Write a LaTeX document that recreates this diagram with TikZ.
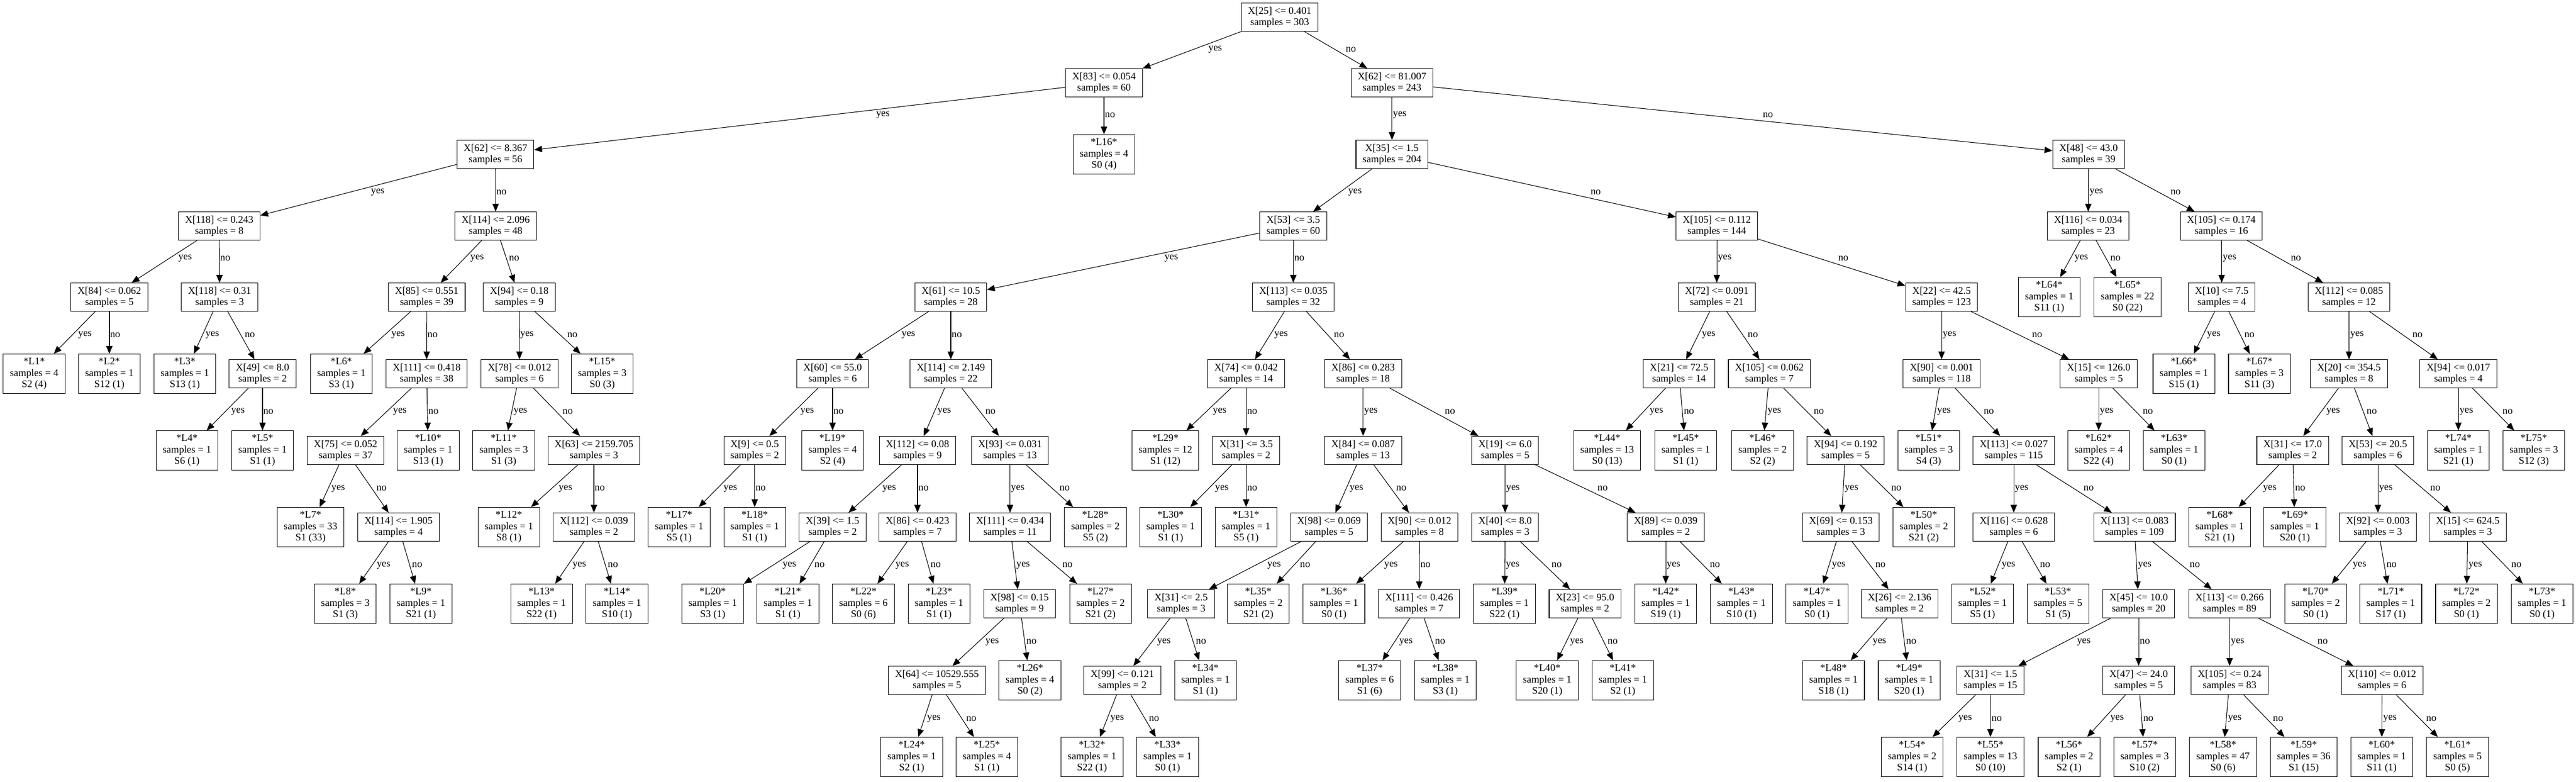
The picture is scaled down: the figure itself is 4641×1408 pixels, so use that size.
\documentclass[tikz,border=0pt]{standalone}
\usepackage{fontspec}
\setmainfont{Liberation Serif}
\usetikzlibrary{arrows.meta}

% one pixel of the picture is 0.02cm
\newcommand\pxu{0.569055}

\tikzset{
  cond/.style={draw, line width=0.6pt, rectangle, align=center, inner xsep=6.8pt,
    inner ysep=2pt, minimum height=29pt, font=\fontsize{10.4}{11.8}\selectfont},
  leaf/.style={cond, minimum height=40.4pt},
  link/.style={line width=0.6pt, -{Triangle[length=8pt,width=6.5pt]}},
  lab/.style={anchor=west, inner sep=0.5pt, font=\fontsize{10.4}{11.8}\selectfont}
}

% edge from #1 to #2, label #3 sits to the right of the line
\newcommand\branch[3]{%
  \draw[link] (#1) -- (#2);
  \path (#1.center); \pgfgetlastxy{\ax}{\ay}
  \path (#2.center); \pgfgetlastxy{\bx}{\by}
  \pgfmathsetmacro\pa{-1*(\ay)/\pxu}
  \pgfmathsetmacro\pb{-1*(\by)/\pxu}
  \pgfmathsetmacro\ly{\pa+58.5+10*((\pa>200)*(\pa<300)+(\pa>500))}
  \pgfmathsetmacro\ty{\ly+10*((\bx>\ax)-(\bx<\ax))}
  \pgfmathsetmacro\tx{(\ax+(\bx-\ax)*((\ty-\pa)/(\pb-\pa)))/\pxu}
  \node[lab] at (\tx,\ly) {#3};
}
\newcommand\fork[3]{\branch{#1}{#2}{yes}\branch{#1}{#3}{no}}

\begin{document}
\begin{tikzpicture}[x=0.02cm,y=-0.02cm]
\path[fill=white,use as bounding box] (0,0) rectangle (4641,1408);

% rank 0 and 1
\node[cond] (t1) at (2305.5,31) {X[25] <= 0.401\\samples = 303};
\node[cond] (t2) at (1989,149) {X[83] <= 0.054\\samples = 60};
\node[cond] (t17) at (2507.8,149) {X[62] <= 81.007\\samples = 243};
% rank 2
\node[cond] (t3) at (892.7,278) {X[62] <= 8.367\\samples = 56};
\node[leaf] (L16) at (1989,278) {*L16*\\samples = 4\\S0 (4)};
\node[cond] (t18) at (2507.8,278) {X[35] <= 1.5\\samples = 204};
\node[cond] (t64) at (3762.8,278) {X[48] <= 43.0\\samples = 39};
% rank 3
\node[cond] (t4) at (395,407) {X[118] <= 0.243\\samples = 8};
\node[cond] (t8) at (893,407) {X[114] <= 2.096\\samples = 48};
\node[cond] (t19) at (2330,407) {X[53] <= 3.5\\samples = 60};
\node[cond] (t45) at (3093,407) {X[105] <= 0.112\\samples = 144};
\node[cond] (t65) at (3762,407) {X[116] <= 0.034\\samples = 23};
\node[cond] (t66) at (4002,407) {X[105] <= 0.174\\samples = 16};
% rank 4
\node[cond] (t5) at (197,535) {X[84] <= 0.062\\samples = 5};
\node[cond] (t6) at (395.7,535) {X[118] <= 0.31\\samples = 3};
\node[cond] (t9) at (768.8,535) {X[85] <= 0.551\\samples = 39};
\node[cond] (t13) at (935.5,535) {X[94] <= 0.18\\samples = 9};
\node[cond] (t20) at (1713,535) {X[61] <= 10.5\\samples = 28};
\node[cond] (t31) at (2330,535) {X[113] <= 0.035\\samples = 32};
\node[cond] (t46) at (3093,535) {X[72] <= 0.091\\samples = 21};
\node[cond] (t52) at (3498,535) {X[22] <= 42.5\\samples = 123};
\node[leaf] (L64) at (3692,535) {*L64*\\samples = 1\\S11 (1)};
\node[leaf] (L65) at (3833,535) {*L65*\\samples = 22\\S0 (22)};
\node[cond] (t67) at (4002.8,535) {X[10] <= 7.5\\samples = 4};
\node[cond] (t68) at (4231.9,535) {X[112] <= 0.085\\samples = 12};
% rank 5
\node[leaf] (L1) at (61.6,673) {*L1*\\samples = 4\\S2 (4)};
\node[leaf] (L2) at (197,673) {*L2*\\samples = 1\\S12 (1)};
\node[leaf] (L3) at (333,673) {*L3*\\samples = 1\\S13 (1)};
\node[cond] (t7) at (473,673) {X[49] <= 8.0\\samples = 2};
\node[leaf] (L6) at (615,673) {*L6*\\samples = 1\\S3 (1)};
\node[cond] (t10) at (768.7,673) {X[111] <= 0.418\\samples = 38};
\node[cond] (t14) at (936,673) {X[78] <= 0.012\\samples = 6};
\node[leaf] (L15) at (1085,673) {*L15*\\samples = 3\\S0 (3)};
\node[cond] (t21) at (1500,673) {X[60] <= 55.0\\samples = 6};
\node[cond] (t23) at (1713,673) {X[114] <= 2.149\\samples = 22};
\node[cond] (t32) at (2245,673) {X[74] <= 0.042\\samples = 14};
\node[cond] (t34) at (2455.8,673) {X[86] <= 0.283\\samples = 18};
\node[cond] (t47) at (3025,673) {X[21] <= 72.5\\samples = 14};
\node[cond] (t48) at (3187.7,673) {X[105] <= 0.062\\samples = 7};
\node[cond] (t53) at (3498,673) {X[90] <= 0.001\\samples = 118};
\node[cond] (t63) at (3781,673) {X[15] <= 126.0\\samples = 5};
\node[leaf] (L66) at (3934.6,673) {*L66*\\samples = 1\\S15 (1)};
\node[leaf] (L67) at (4070.6,673) {*L67*\\samples = 3\\S11 (3)};
\node[cond] (t69) at (4232,673) {X[20] <= 354.5\\samples = 8};
\node[cond] (t74) at (4429,673) {X[94] <= 0.017\\samples = 4};
% rank 6
\node[leaf] (L4) at (336.8,811) {*L4*\\samples = 1\\S6 (1)};
\node[leaf] (L5) at (473,811) {*L5*\\samples = 1\\S1 (1)};
\node[cond] (t11) at (622.6,811) {X[75] <= 0.052\\samples = 37};
\node[leaf] (L10) at (771.4,811) {*L10*\\samples = 1\\S13 (1)};
\node[leaf] (L11) at (907.6,811) {*L11*\\samples = 3\\S1 (3)};
\node[cond] (t15) at (1070,811) {X[63] <= 2159.705\\samples = 3};
\node[cond] (t22) at (1359.7,811) {X[9] <= 0.5\\samples = 2};
\node[leaf] (L19) at (1500,811) {*L19*\\samples = 4\\S2 (4)};
\node[cond] (t24) at (1653,811) {X[112] <= 0.08\\samples = 9};
\node[cond] (t27) at (1819.7,811) {X[93] <= 0.031\\samples = 13};
\node[leaf] (L29) at (2099.6,811) {*L29*\\samples = 12\\S1 (12)};
\node[cond] (t33) at (2245,811) {X[31] <= 3.5\\samples = 2};
\node[cond] (t35) at (2455.8,811) {X[84] <= 0.087\\samples = 13};
\node[cond] (t41) at (2711.7,811) {X[19] <= 6.0\\samples = 5};
\node[leaf] (L44) at (2895.5,811) {*L44*\\samples = 13\\S0 (13)};
\node[leaf] (L45) at (3037,811) {*L45*\\samples = 1\\S1 (1)};
\node[leaf] (L46) at (3175.5,811) {*L46*\\samples = 2\\S2 (2)};
\node[cond] (t49) at (3325,811) {X[94] <= 0.192\\samples = 5};
\node[leaf] (L51) at (3474.7,811) {*L51*\\samples = 3\\S4 (3)};
\node[cond] (t54) at (3628,811) {X[113] <= 0.027\\samples = 115};
\node[leaf] (L62) at (3781,811) {*L62*\\samples = 4\\S22 (4)};
\node[leaf] (L63) at (3917,811) {*L63*\\samples = 1\\S0 (1)};
\node[cond] (t70) at (4130.6,811) {X[31] <= 17.0\\samples = 2};
\node[cond] (t71) at (4284,811) {X[53] <= 20.5\\samples = 6};
\node[leaf] (L74) at (4429,811) {*L74*\\samples = 1\\S21 (1)};
\node[leaf] (L75) at (4565,811) {*L75*\\samples = 3\\S12 (3)};
% rank 7
\node[leaf] (L7) at (559.5,949) {*L7*\\samples = 33\\S1 (33)};
\node[cond] (t12) at (718,949) {X[114] <= 1.905\\samples = 4};
\node[leaf] (L12) at (916.8,949) {*L12*\\samples = 1\\S8 (1)};
\node[cond] (t16) at (1070,949) {X[112] <= 0.039\\samples = 2};
\node[leaf] (L17) at (1223.5,949) {*L17*\\samples = 1\\S5 (1)};
\node[leaf] (L18) at (1359.7,949) {*L18*\\samples = 1\\S1 (1)};
\node[cond] (t25) at (1500,949) {X[39] <= 1.5\\samples = 2};
\node[cond] (t26) at (1653,949) {X[86] <= 0.423\\samples = 7};
\node[cond] (t28) at (1819.7,949) {X[111] <= 0.434\\samples = 11};
\node[leaf] (L28) at (1973.5,949) {*L28*\\samples = 2\\S5 (2)};
\node[leaf] (L30) at (2109,949) {*L30*\\samples = 1\\S1 (1)};
\node[leaf] (L31) at (2245,949) {*L31*\\samples = 1\\S5 (1)};
\node[cond] (t36) at (2394.4,949) {X[98] <= 0.069\\samples = 5};
\node[cond] (t39) at (2557.4,949) {X[90] <= 0.012\\samples = 8};
\node[cond] (t42) at (2711.7,949) {X[40] <= 8.0\\samples = 3};
\node[cond] (t44) at (3001,949) {X[89] <= 0.039\\samples = 2};
\node[cond] (t50) at (3316.6,949) {X[69] <= 0.153\\samples = 3};
\node[leaf] (L50) at (3466,949) {*L50*\\samples = 2\\S21 (2)};
\node[cond] (t55) at (3628,949) {X[116] <= 0.628\\samples = 6};
\node[cond] (t56) at (3845.5,949) {X[113] <= 0.083\\samples = 109};
\node[leaf] (L68) at (3999,949) {*L68*\\samples = 1\\S21 (1)};
\node[leaf] (L69) at (4134.4,949) {*L69*\\samples = 1\\S20 (1)};
\node[cond] (t72) at (4284,949) {X[92] <= 0.003\\samples = 3};
\node[cond] (t73) at (4446,949) {X[15] <= 624.5\\samples = 3};
% rank 8
\node[leaf] (L8) at (622.2,1087) {*L8*\\samples = 3\\S1 (3)};
\node[leaf] (L9) at (758.4,1087) {*L9*\\samples = 1\\S21 (1)};
\node[leaf] (L13) at (975.7,1087) {*L13*\\samples = 1\\S22 (1)};
\node[leaf] (L14) at (1111.6,1087) {*L14*\\samples = 1\\S10 (1)};
\node[leaf] (L20) at (1284,1087) {*L20*\\samples = 1\\S3 (1)};
\node[leaf] (L21) at (1419.5,1087) {*L21*\\samples = 1\\S1 (1)};
\node[leaf] (L22) at (1555.6,1087) {*L22*\\samples = 6\\S0 (6)};
\node[leaf] (L23) at (1691.8,1087) {*L23*\\samples = 1\\S1 (1)};
\node[cond] (t29) at (1836.8,1087) {X[98] <= 0.15\\samples = 9};
\node[leaf] (L27) at (1982.7,1087) {*L27*\\samples = 2\\S21 (2)};
\node[cond] (t37) at (2128,1087) {X[31] <= 2.5\\samples = 3};
\node[leaf] (L35) at (2267,1087) {*L35*\\samples = 2\\S21 (2)};
\node[leaf] (L36) at (2403.3,1087) {*L36*\\samples = 1\\S0 (1)};
\node[cond] (t40) at (2556.8,1087) {X[111] <= 0.426\\samples = 7};
\node[leaf] (L39) at (2710.6,1087) {*L39*\\samples = 1\\S22 (1)};
\node[cond] (t43) at (2855.6,1087) {X[23] <= 95.0\\samples = 2};
\node[leaf] (L42) at (3001,1087) {*L42*\\samples = 1\\S19 (1)};
\node[leaf] (L43) at (3137.4,1087) {*L43*\\samples = 1\\S10 (1)};
\node[leaf] (L47) at (3273.5,1087) {*L47*\\samples = 1\\S0 (1)};
\node[cond] (t51) at (3422.3,1087) {X[26] <= 2.136\\samples = 2};
\node[leaf] (L52) at (3571.9,1087) {*L52*\\samples = 1\\S5 (1)};
\node[leaf] (L53) at (3707.7,1087) {*L53*\\samples = 5\\S1 (5)};
\node[cond] (t57) at (3853,1087) {X[45] <= 10.0\\samples = 20};
\node[cond] (t60) at (4016.9,1087) {X[113] <= 0.266\\samples = 89};
\node[leaf] (L70) at (4171.9,1087) {*L70*\\samples = 2\\S0 (1)};
\node[leaf] (L71) at (4307.3,1087) {*L71*\\samples = 1\\S17 (1)};
\node[leaf] (L72) at (4443.6,1087) {*L72*\\samples = 2\\S0 (1)};
\node[leaf] (L73) at (4579.8,1087) {*L73*\\samples = 1\\S0 (1)};
% rank 9
\node[cond] (t30) at (1688,1225) {X[64] <= 10529.555\\samples = 5};
\node[leaf] (L26) at (1855.6,1225) {*L26*\\samples = 4\\S0 (2)};
\node[cond] (t38) at (2022,1225) {X[99] <= 0.121\\samples = 2};
\node[leaf] (L34) at (2171.7,1225) {*L34*\\samples = 1\\S1 (1)};
\node[leaf] (L37) at (2467.6,1225) {*L37*\\samples = 6\\S1 (6)};
\node[leaf] (L38) at (2603.9,1225) {*L38*\\samples = 1\\S3 (1)};
\node[leaf] (L40) at (2787.5,1225) {*L40*\\samples = 1\\S20 (1)};
\node[leaf] (L41) at (2923.7,1225) {*L41*\\samples = 1\\S2 (1)};
\node[leaf] (L48) at (3303.3,1225) {*L48*\\samples = 1\\S18 (1)};
\node[leaf] (L49) at (3439.6,1225) {*L49*\\samples = 1\\S20 (1)};
\node[cond] (t58) at (3586,1225) {X[31] <= 1.5\\samples = 15};
\node[cond] (t59) at (3853,1225) {X[47] <= 24.0\\samples = 5};
\node[cond] (t61) at (4016.9,1225) {X[105] <= 0.24\\samples = 83};
\node[cond] (t62) at (4291.6,1225) {X[110] <= 0.012\\samples = 6};
% rank 10
\node[leaf] (L24) at (1642.5,1363) {*L24*\\samples = 1\\S2 (1)};
\node[leaf] (L25) at (1778,1363) {*L25*\\samples = 4\\S1 (1)};
\node[leaf] (L32) at (1967.4,1363) {*L32*\\samples = 1\\S22 (1)};
\node[leaf] (L33) at (2103.5,1363) {*L33*\\samples = 1\\S0 (1)};
\node[leaf] (L54) at (3445,1363) {*L54*\\samples = 2\\S14 (1)};
\node[leaf] (L55) at (3586,1363) {*L55*\\samples = 13\\S0 (10)};
\node[leaf] (L56) at (3727.6,1363) {*L56*\\samples = 2\\S2 (1)};
\node[leaf] (L57) at (3863.8,1363) {*L57*\\samples = 3\\S10 (2)};
\node[leaf] (L58) at (4005,1363) {*L58*\\samples = 47\\S0 (6)};
\node[leaf] (L59) at (4150.5,1363) {*L59*\\samples = 36\\S1 (15)};
\node[leaf] (L60) at (4291,1363) {*L60*\\samples = 1\\S11 (1)};
\node[leaf] (L61) at (4427.5,1363) {*L61*\\samples = 5\\S0 (5)};

% branches: yes child, no child
\fork{t1}{t2}{t17}
\fork{t2}{t3}{L16}
\fork{t3}{t4}{t8}
\fork{t4}{t5}{t6}
\fork{t5}{L1}{L2}
\fork{t6}{L3}{t7}
\fork{t7}{L4}{L5}
\fork{t8}{t9}{t13}
\fork{t9}{L6}{t10}
\fork{t10}{t11}{L10}
\fork{t11}{L7}{t12}
\fork{t12}{L8}{L9}
\fork{t13}{t14}{L15}
\fork{t14}{L11}{t15}
\fork{t15}{L12}{t16}
\fork{t16}{L13}{L14}
\fork{t17}{t18}{t64}
\fork{t18}{t19}{t45}
\fork{t19}{t20}{t31}
\fork{t20}{t21}{t23}
\fork{t21}{t22}{L19}
\fork{t22}{L17}{L18}
\fork{t23}{t24}{t27}
\fork{t24}{t25}{t26}
\fork{t25}{L20}{L21}
\fork{t26}{L22}{L23}
\fork{t27}{t28}{L28}
\fork{t28}{t29}{L27}
\fork{t29}{t30}{L26}
\fork{t30}{L24}{L25}
\fork{t31}{t32}{t34}
\fork{t32}{L29}{t33}
\fork{t33}{L30}{L31}
\fork{t34}{t35}{t41}
\fork{t35}{t36}{t39}
\fork{t36}{t37}{L35}
\fork{t37}{t38}{L34}
\fork{t38}{L32}{L33}
\fork{t39}{L36}{t40}
\fork{t40}{L37}{L38}
\fork{t41}{t42}{t44}
\fork{t42}{L39}{t43}
\fork{t43}{L40}{L41}
\fork{t44}{L42}{L43}
\fork{t45}{t46}{t52}
\fork{t46}{t47}{t48}
\fork{t47}{L44}{L45}
\fork{t48}{L46}{t49}
\fork{t49}{t50}{L50}
\fork{t50}{L47}{t51}
\fork{t51}{L48}{L49}
\fork{t52}{t53}{t63}
\fork{t53}{L51}{t54}
\fork{t54}{t55}{t56}
\fork{t55}{L52}{L53}
\fork{t56}{t57}{t60}
\fork{t57}{t58}{t59}
\fork{t58}{L54}{L55}
\fork{t59}{L56}{L57}
\fork{t60}{t61}{t62}
\fork{t61}{L58}{L59}
\fork{t62}{L60}{L61}
\fork{t63}{L62}{L63}
\fork{t64}{t65}{t66}
\fork{t65}{L64}{L65}
\fork{t66}{t67}{t68}
\fork{t67}{L66}{L67}
\fork{t68}{t69}{t74}
\fork{t69}{t70}{t71}
\fork{t70}{L68}{L69}
\fork{t71}{t72}{t73}
\fork{t72}{L70}{L71}
\fork{t73}{L72}{L73}
\fork{t74}{L74}{L75}
\end{tikzpicture}
\end{document}
